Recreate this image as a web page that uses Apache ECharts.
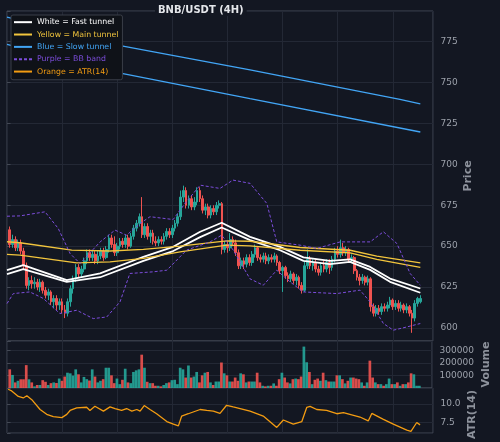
<!DOCTYPE html>
<html>
<head>
<meta charset="utf-8">
<script src="https://cdn.jsdelivr.net/npm/echarts@6.0.0/dist/echarts.min.js"></script>
<style>
html, body { margin: 0; padding: 0; background: #131722; }
#chart { width: 500px; height: 442px; }
</style>
</head>
<body>
<div id="chart"></div>
<script>
// candles: [open, close, low, high], one per 4h bar
const candles = [
  [660,651,649,662],[651,654,649,657],[654,649,647,656],[649,652,647,654],[652,647,645,654],
  [647,638,636,649],[638,626,624,640],[626,629,623,631],[629,627,624,632],[627,628,624,631],
  [628,625,623,630],[625,628,622,630],[628,623,621,629],[623,620,618,625],[620,622,617,624],
  [622,616,614,623],[616,618,612,620],[618,614,611,620],[614,616,611,618],[616,611,609,618],
  [611,609,606,614],[609,616,607,618],[616,624,613,626],[624,630,621,632],[630,637,628,639],
  [637,633,631,639],[633,636,631,638],[636,641,634,643],[641,646,639,648],[646,643,641,648],
  [643,645,641,647],[645,641,639,647],[641,644,639,647],[644,647,642,649],[647,643,641,649],
  [643,648,642,650],[648,655,646,657],[655,651,649,657],[651,646,644,656],[646,650,644,652],
  [650,653,648,655],[653,651,649,655],[651,655,649,657],[655,650,648,657],[650,656,649,658],
  [656,661,654,663],[661,664,659,666],[664,668,662,670],[668,657,655,680],[657,662,655,664],
  [662,656,654,664],[656,658,652,660],[658,653,651,660],[653,652,650,656],[652,654,650,656],
  [654,653,651,656],[653,656,651,658],[656,659,654,661],[659,657,655,661],[657,661,655,663],
  [661,664,659,666],[664,668,662,670],[668,680,666,684],[680,684,677,687],[684,675,673,686],
  [675,679,673,681],[679,674,672,681],[674,677,672,680],[677,684,675,686],[684,679,677,686],
  [679,672,670,681],[672,674,669,676],[674,669,667,676],[669,673,667,675],[673,671,669,675],
  [671,675,669,677],[675,676,673,678],[676,648,645,677],[648,651,646,653],[651,649,646,653],
  [649,654,647,658],[654,652,650,656],[652,646,644,654],[646,638,636,648],[638,641,636,643],
  [641,639,636,643],[639,643,637,645],[643,640,638,645],[640,645,638,647],[645,649,643,651],
  [649,643,641,650],[643,642,640,645],[642,644,640,646],[644,641,639,646],[641,643,639,645],
  [643,642,640,645],[642,644,640,646],[644,640,638,645],[640,635,633,641],[635,637,622,638],
  [637,632,630,638],[632,630,628,634],[630,633,628,635],[633,629,627,634],[629,631,626,633],
  [631,626,624,632],[626,623,621,628],[623,638,622,641],[638,642,636,648],[642,638,636,644],
  [638,640,635,642],[640,636,634,642],[636,634,632,638],[634,638,632,640],[638,636,634,641],
  [636,640,634,642],[640,637,633,642],[637,642,635,644],[642,647,640,649],[647,645,643,650],
  [645,649,643,654],[649,646,644,652],[646,648,644,650],[648,642,640,649],[642,643,640,645],
  [643,635,633,644],[635,631,629,636],[631,629,626,633],[629,631,627,633],[631,628,626,632],
  [628,630,626,632],[630,613,610,631],[613,609,607,615],[609,612,607,614],[612,610,608,614],
  [610,613,608,615],[613,612,610,615],[612,614,610,616],[614,617,612,619],[617,613,611,618],
  [613,615,611,617],[615,612,610,617],[612,614,610,616],[614,611,609,615],[611,613,609,615],
  [613,609,607,614],[609,606,597,611],[606,615,604,617],[615,618,613,619],[616,618,615,620]
]

const volumes = [
  150000,105000,45000,58000,70000, 70000,184000,70000,45000,13000,
  24000,24000,63000,50000,24000, 39000,45000,40000,76000,58000,
  92000,123000,118000,100000,150000, 110000,45000,89000,71000,60000,
  150000,92000,45000,58000,71000, 163000,163000,102000,39000,76000,
  31000,66000,155000,45000,39000, 129000,142000,150000,268000,163000,
  50000,39000,39000,18000,18000, 13000,24000,39000,45000,63000,
  66000,31000,163000,150000,84000, 181000,84000,92000,129000,45000,
  102000,123000,129000,45000,24000, 52000,52000,205000,118000,102000,
  52000,52000,84000,58000,118000, 110000,45000,52000,52000,52000,
  123000,45000,18000,13000,18000, 18000,37000,18000,71000,123000,
  84000,45000,37000,71000,76000, 71000,92000,333000,207000,129000,
  31000,66000,76000,58000,123000, 63000,52000,52000,52000,102000,
  102000,71000,37000,58000,84000, 84000,76000,71000,45000,18000,
  45000,220000,84000,45000,31000, 31000,18000,31000,76000,31000,
  31000,45000,18000,31000,31000, 45000,118000,110000,18000,18000
]

// indicator lines, read as [bar position, value]
const fastUpper = [[0,635.3],[5.9,638.4],[21.7,629.2],[33.8,633.3],[49.5,643.5],[60.3,649.6],[70.1,658.8],[77.9,664.3],[88.2,655.7],[99.1,649.6],[107.6,643.1],[117.2,641],[124.5,641.9],[131.8,637.3],[139,630.2],[150,624.1]]
const fastLower = [[0,632.9],[5.9,635.9],[21.7,628.2],[33.8,631],[49.5,641],[60.3,647],[70.1,655.5],[77.9,661.4],[88.2,653.7],[99.1,647.5],[107.6,641],[117.2,639],[124.5,640.4],[131.8,635.5],[139,628.2],[150,621.5]]
const mainUpper = [[0,652.7],[4.7,652.1],[23.5,647.6],[37.4,647],[49.5,648],[62.8,650],[79.7,653.2],[88.2,653],[106.4,649.2],[124.5,647.5],[134.2,643.9],[150,639.8]]
const mainLower = [[0,645],[4.7,644.5],[25.3,639.8],[37.4,640.4],[49.5,642.5],[62.8,646.5],[79.7,650.6],[88.2,650.2],[106.4,647.5],[124.5,645.9],[134.2,641.9],[150,637]]
const slowUpper = [[0,790],[41.6,772.5],[88.2,757.8],[142.6,739.8],[150,737]]
const slowLower = [[0,773.4],[41.6,755.7],[88.2,740.2],[150,719.8]]
const bbUpper = [[0,668.3],[4.7,668.5],[13.8,671],[18.6,660.8],[22.9,645.5],[26.5,639.4],[33.8,652.6],[39.2,659.8],[43.4,656.7],[48.3,663.9],[51.9,668],[60.3,666.3],[64.6,676.1],[70.1,687.3],[77.3,685.3],[82,690.4],[88.2,688.4],[94.3,676.1],[97.9,652.6],[106.4,650.6],[112.4,648.6],[120.9,652.6],[131.8,652.6],[136.6,658.8],[141.5,651.6],[146.3,633.3],[150,626.1]]
const bbLower = [[0,614.9],[2.3,621],[8.3,622],[13.2,618],[19.2,608.8],[25.3,610.8],[31.3,605.7],[36.2,606.7],[41,615.9],[44.6,633.3],[53.1,634.3],[58,635.3],[65.2,647.6],[73.7,652.6],[77.9,656.7],[82.1,647.6],[88.2,630],[93,626.1],[97.9,635.3],[102.7,628.2],[107.5,622],[119.7,621],[128.1,623.1],[131.8,615.9],[136.6,602.7],[140.2,598.6],[145.1,600.6],[150,602.7]]
const atr = [[0.4,11.97],[1.7,11.75],[4.1,11.0],[5.9,10.8],[7.2,11.1],[9,10.57],[12,9.25],[14.4,8.6],[16.8,8.29],[19.9,8.16],[21.7,8.6],[22.9,9.12],[25.3,9.47],[28.9,9.55],[30.1,9.12],[31.9,9.68],[35,9.03],[37.4,9.6],[39.2,9.38],[41.6,9.12],[43.4,9.38],[45.3,9.03],[47.1,9.25],[48.3,9.03],[49.8,9.78],[51.9,9.25],[54.3,8.68],[58,7.63],[60.4,7.28],[62.2,7.05],[63.4,8.37],[65.8,8.68],[70.1,9.25],[72.5,9.12],[74.9,9.03],[77.3,8.72],[79.7,9.82],[82.1,9.6],[84.6,9.38],[88.2,9.03],[93,8.37],[97.9,6.84],[100.3,7.84],[103.9,7.28],[107,7.63],[108.8,9.55],[110,9.68],[112.4,9.25],[116,9.12],[119.7,8.68],[122.1,8.82],[128.1,8.24],[131.1,7.71],[132.4,8.72],[136.6,7.93],[140.2,7.28],[145.1,6.49],[146.6,6.32],[148.7,7.5],[149.9,7.18]]

const BG = '#131722'
const UP = '#26a69a'
const DOWN = '#ef5350'
const GRID_LINE = '#232835'
const SPINE = '#434854'
const LABEL = '#9ca1ab'

const chart = echarts.init(document.getElementById('chart'))

function xAxisFor(gridIndex) {
  return {
    type: 'value', gridIndex, min: 0, max: 154.6, interval: 20,
    axisLabel: { show: false }, axisTick: { show: false }, axisLine: { show: false },
    splitLine: { show: true, lineStyle: { color: GRID_LINE, width: 1 } }
  }
}

function yAxisFor(gridIndex, min, max, step, name, nameGap, fmt, namePad) {
  return {
    type: 'value', gridIndex, position: 'right', min, max,
    minInterval: step, maxInterval: step, splitNumber: 8,
    name, nameLocation: 'middle', nameRotate: 90, nameGap, nameMoveOverlap: false,
    nameTextStyle: { color: '#8d929c', fontSize: 11, fontWeight: 'bold', fontFamily: 'DejaVu Sans', padding: namePad || 0 },
    axisLine: { show: false },
    axisTick: { show: true, length: 3.5, lineStyle: { color: SPINE } },
    axisLabel: {
      color: LABEL, fontSize: 9, fontFamily: 'DejaVu Sans', margin: 7.5,
      formatter: v => {
        const k = v / step
        if (Math.abs(k - Math.round(k)) > 1e-6 || v <= 0) return ''
        return fmt(v)
      }
    },
    splitLine: { show: true, lineStyle: { color: GRID_LINE, width: 1 } }
  }
}

function line(name, data, color, width, extra) {
  return Object.assign({
    name, type: 'line', xAxisIndex: 0, yAxisIndex: 0, data,
    symbol: 'none', smooth: false, z: 3,
    lineStyle: { color, width }, itemStyle: { color }
  }, extra || {})
}

const legendItems = [
  { name: 'White = Fast tunnel', textStyle: { color: '#ffffff' } },
  { name: 'Yellow = Main tunnel', textStyle: { color: '#f2c53d' } },
  { name: 'Blue = Slow tunnel', textStyle: { color: '#42a5f5' } },
  { name: 'Purple = BB band', textStyle: { color: '#7c4ddb' } },
  { name: 'Orange = ATR(14)', textStyle: { color: '#f39c12' } }
]

const option = {
  backgroundColor: BG,
  animation: false,
  title: {
    text: 'BNB/USDT (4H)', left: 155, top: 4, padding: [1, 3],
    backgroundColor: BG,
    textStyle: { color: '#e4e6ea', fontSize: 10, fontWeight: 'bold', fontFamily: 'DejaVu Sans' }
  },
  legend: {
    data: legendItems, orient: 'vertical', left: 11, top: 15,
    backgroundColor: '#0f1218', borderColor: '#3a3e48', borderWidth: 1, borderRadius: 2,
    padding: [1, 4, 2, 2], itemGap: 0, itemWidth: 18, itemHeight: 8,
    itemStyle: { opacity: 0 },
    textStyle: { fontSize: 7.8, fontFamily: 'DejaVu Sans', lineHeight: 12.35 },
    selectedMode: false, z: 10
  },
  grid: [
    { left: 7, right: 67, top: 11, height: 330, show: true, borderColor: SPINE, borderWidth: 1, backgroundColor: 'transparent' },
    { left: 7, right: 67, top: 341, height: 47, show: true, borderColor: SPINE, borderWidth: 1, backgroundColor: 'transparent' },
    { left: 7, right: 67, top: 388, height: 46, show: true, borderColor: SPINE, borderWidth: 1, backgroundColor: 'transparent' }
  ],
  xAxis: [xAxisFor(0), xAxisFor(1), xAxisFor(2)],
  yAxis: [
    yAxisFor(0, 592, 793.8, 25, 'Price', 30, v => String(v)),
    yAxisFor(1, 0, 378000, 100000, 'Volume', 49, v => String(v)),
    yAxisFor(2, 6.09, 12.14, 2.5, 'ATR(14)', 33.5, v => v.toFixed(1), [0, 8, 0, 0])
  ],
  series: [
    {
      type: 'candlestick', xAxisIndex: 0, yAxisIndex: 0, barWidth: 2.2,
      encode: { x: 0, y: [1, 2, 3, 4] },
      data: candles.map((c, i) => [i + 1, c[0], c[1], c[2], c[3]]),
      itemStyle: { color: UP, color0: DOWN, borderColor: UP, borderColor0: DOWN, borderWidth: 1 },
      z: 2
    },
    line('White = Fast tunnel', fastUpper, '#ffffff', 1.8),
    line('White = Fast tunnel', fastLower, '#ffffff', 1.8),
    line('Yellow = Main tunnel', mainUpper, '#f2c53d', 1.4),
    line('Yellow = Main tunnel', mainLower, '#f2c53d', 1.4),
    line('Blue = Slow tunnel', slowUpper, '#42a5f5', 1.3),
    line('Blue = Slow tunnel', slowLower, '#42a5f5', 1.3),
    line('Purple = BB band', bbUpper, '#7c4ddb', 1, { lineStyle: { color: '#7c4ddb', width: 1, type: [3, 2] } }),
    line('Purple = BB band', bbLower, '#7c4ddb', 1, { lineStyle: { color: '#7c4ddb', width: 1, type: [3, 2] } }),
    {
      type: 'bar', xAxisIndex: 1, yAxisIndex: 1, barWidth: 2.7,
      data: volumes.map((v, i) => ({
        value: [i + 1, v],
        itemStyle: { color: candles[i][1] >= candles[i][0] ? UP : DOWN, opacity: 0.9 }
      }))
    },
    line('Orange = ATR(14)', atr, '#f39c12', 1.3, { xAxisIndex: 2, yAxisIndex: 2 })
  ]
}

chart.setOption(option)
</script>
</body>
</html>
